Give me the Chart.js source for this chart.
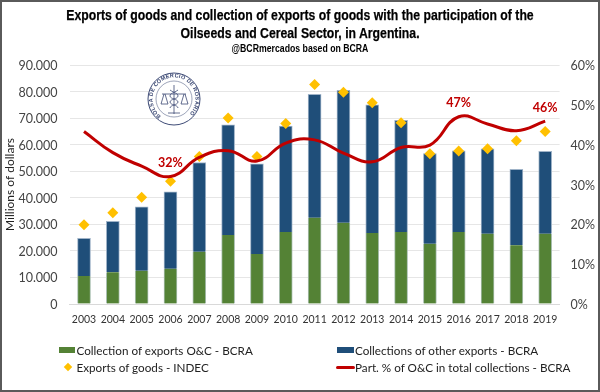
<!DOCTYPE html>
<html><head><meta charset="utf-8">
<script src="https://cdn.jsdelivr.net/npm/chart.js@4"></script>
<style>
html,body{margin:0;padding:0;background:#fff}
#wrap{position:relative;width:600px;height:392px;overflow:hidden;background:#fff}
#frame{position:absolute;left:0;top:0;width:596px;height:388px;border:2px solid #5a5a5a;pointer-events:none}
canvas{position:absolute;left:0;top:0}
.t{position:absolute;left:0;width:600px;text-align:center;color:#000;font-family:"Liberation Sans",sans-serif;font-weight:700;white-space:nowrap;transform-origin:300px 0}
#legend div{position:absolute;font:11.7px/14px Lato,sans-serif;color:#222;white-space:nowrap}
#legend i{position:absolute;display:block}
#logo{position:absolute;left:147px;top:72px;width:54px;height:54px}
</style></head><body>
<div id="wrap">
<canvas id="c" width="600" height="392"></canvas>
<div class="t" style="top:6px;font-size:15.5px;line-height:18px;transform:scaleX(.79);-webkit-text-stroke:.25px #000" id="title"></div>
<div class="t" style="top:41px;font-size:10.5px;line-height:14px;transform:scaleX(.83)">@BCRmercados based on BCRA</div>
<svg id="logo" viewBox="0 0 54 54">
<defs><path id="arc" d="M 14 44 A 21.5 21.5 0 1 1 40 44"/></defs>
<circle cx="27" cy="27" r="26" fill="#fff" stroke="#3d4a75" stroke-width="1"/>
<circle cx="27" cy="27" r="18" fill="none" stroke="#3d4a75" stroke-width=".5"/>
<text font-family="Liberation Sans,sans-serif" font-size="5.4" font-weight="700" fill="#3d4a75" letter-spacing=".3"><textPath href="#arc">BOLSA DE COMERCIO DE ROSARIO</textPath></text>
<g stroke="#3d4a75" fill="none" stroke-width=".8">
<path d="M27 13V42M15 22H39M17 22l-3 10h7l-3-10M37 22l-3 10h7l-3-10M21 41h12M23 18c4 3 8 3 8 6s-8 3-8 6 8 3 8 6M31 18c-4 3-8 3-8 6s8 3 8 6-8 3-8 6"/>
</g>
</svg>
<div id="legend"></div>
<div id="frame"></div>
</div>
<script>
const years=["2003","2004","2005","2006","2007","2008","2009","2010","2011","2012","2013","2014","2015","2016","2017","2018","2019"];
const collectionOC=[10500,12000,12500,13300,19700,26000,18800,27100,32500,30600,26700,27100,22700,27100,26500,22100,26500];
const collectionOther=[14200,19100,24100,28900,33600,41500,34000,39900,46500,49900,48300,42100,33900,30600,31900,28600,31000];
const exportsGoods=[29800,34400,40200,46200,55500,70000,55500,68000,82700,79700,75800,68300,56600,57600,58500,61500,65000];
const partPct=[43.3,38,34.6,32,36.8,38.5,35.9,40.4,41.2,37.9,35.7,39.3,39.9,47,45.2,43.5,45.9];
const pctLabels={3:"32%",13:"47%",16:"46%"};
const titleLines=["Exports of goods and collection of exports of goods with the participation of the","Oilseeds and Cereal Sector, in Argentina."];
const seriesNames=["Collection of exports O&C - BCRA","Collections of other exports - BCRA","Exports of goods - INDEC","Part. % of O&C in total collections - BCRA"];
const GREEN="#548235",BLUE="#1f4e79",GOLD="#ffc000",RED="#c00000";

document.getElementById('title').innerHTML=titleLines.join('<br>');

const legendSpec=[
 {name:seriesNames[0],x:76.5,y:350,kind:'bar',color:GREEN},
 {name:seriesNames[1],x:355,y:350,kind:'bar',color:BLUE},
 {name:seriesNames[2],x:76.5,y:367,kind:'dia',color:GOLD},
 {name:seriesNames[3],x:355,y:367,kind:'line',color:RED}];
const lg=document.getElementById('legend');
legendSpec.forEach(s=>{
 const m=document.createElement('i');
 if(s.kind==='bar'){m.style.cssText=`left:${s.x-18}px;top:${s.y-3}px;width:16.5px;height:6px;background:${s.color}`;}
 if(s.kind==='dia'){m.style.cssText=`left:${s.x-12}px;top:${s.y-3}px;width:6px;height:6px;background:${s.color};transform:rotate(45deg)`;}
 if(s.kind==='line'){m.style.cssText=`left:${s.x-19}px;top:${s.y-1.5}px;width:18.5px;height:3px;background:${s.color};border-radius:2px`;}
 lg.appendChild(m);
 const d=document.createElement('div');
 d.textContent=s.name;d.style.left=s.x+'px';d.style.top=(s.y-7)+'px';
 lg.appendChild(d);
});

const labelPlugin={id:'pctLabels',afterDatasetsDraw(ch){
 const {ctx,scales:{x,y2}}=ch;
 ctx.save();ctx.font='bold 12.5px Lato,sans-serif';ctx.fillStyle=RED;ctx.textAlign='center';ctx.textBaseline='middle';
 Object.keys(pctLabels).forEach(i=>{
  ctx.fillText(pctLabels[i],x.getPixelForValue(+i),y2.getPixelForValue(partPct[i])-13.5);
 });
 ctx.restore();
}};
const whiteBg={id:'bg',beforeDraw(ch){const c=ch.ctx;c.save();c.fillStyle='#fff';c.fillRect(0,0,600,392);c.restore();}};

new Chart(document.getElementById('c'),{
 type:'bar',
 data:{labels:years,datasets:[
  {type:'line',label:seriesNames[3],data:partPct,yAxisID:'y2',borderColor:RED,borderWidth:3,pointRadius:0,tension:0.45,order:1,fill:false},
  {type:'line',label:seriesNames[2],data:exportsGoods,yAxisID:'y',showLine:false,pointStyle:'rectRot',pointRadius:5.5,pointBackgroundColor:GOLD,pointBorderColor:GOLD,borderWidth:0,order:2},
  {type:'bar',label:seriesNames[0],data:collectionOC,yAxisID:'y',stack:'s',backgroundColor:GREEN,borderColor:'#a9bfb0',borderWidth:{left:1,right:1},barThickness:13,order:3},
  {type:'bar',label:seriesNames[1],data:collectionOther,yAxisID:'y',stack:'s',backgroundColor:BLUE,borderColor:'#9fb3c8',borderWidth:{left:1,right:1,top:1},barThickness:13,order:3}
 ]},
 options:{
  responsive:false,animation:false,devicePixelRatio:1,
  layout:{padding:{left:0,right:0,top:65,bottom:60}},
  plugins:{legend:{display:false},title:{display:false},tooltip:{enabled:false}},
  scales:{
   x:{stacked:true,grid:{display:false},border:{color:'#d9d9d9'},
      afterFit(s){s.height=28},
      ticks:{font:{family:'Lato,sans-serif',size:10.5},color:'#333',padding:1,maxRotation:0,autoSkip:false}},
   y:{stacked:true,min:0,max:90000,position:'left',
      afterFit(s){s.width=69.6},
      title:{display:true,text:'Millions of dollars',font:{family:'Lato,sans-serif',size:12},color:'#222',padding:{top:3,bottom:2}},
      grid:{color:'#e6e6e6',lineWidth:1,drawTicks:false},border:{display:false},
      ticks:{stepSize:10000,padding:12,labelOffset:1,font:{family:'Lato,sans-serif',size:12.5},color:'#444',callback:v=>v===0?'0':String(v/1000)+'.000'}},
   y2:{min:0,max:60,position:'right',
      afterFit(s){s.width=40.4},
      grid:{display:false,drawTicks:false},border:{display:false},
      ticks:{stepSize:10,padding:11,labelOffset:1,font:{family:'Lato,sans-serif',size:12.5},color:'#444',callback:v=>v+'%'}}
  }
 },
 plugins:[whiteBg,labelPlugin]
});
</script>
</body></html>
